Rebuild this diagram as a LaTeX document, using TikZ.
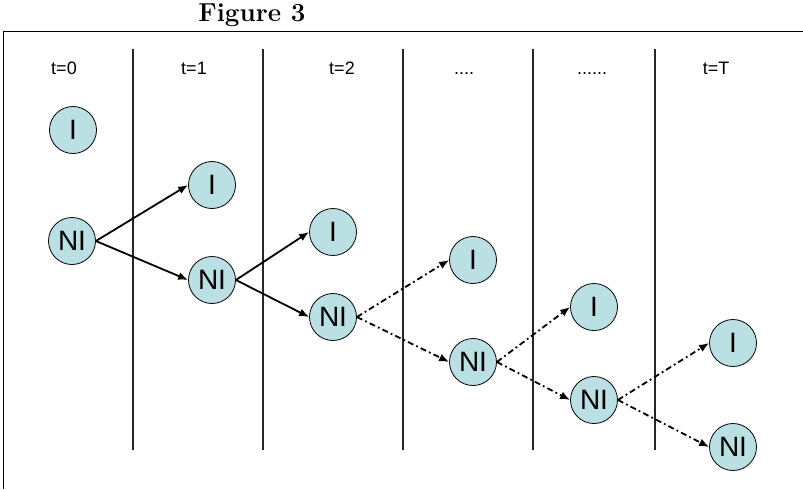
\documentclass[tikz,border=0pt]{standalone}
\usepackage{fontspec}
\setsansfont{Liberation Sans}
\usepackage{tikz}
\usetikzlibrary{
  arrows.meta,%
  positioning
}
\tikzset{>={Latex[length=5pt, width=4pt]}}
\definecolor{stateblue}{RGB}{187, 224, 228}
\tikzset{state/.style={circle, draw=black, thin, fill=stateblue,
    minimum size=23.5pt, inner sep=0pt, font=\sffamily\fontsize{14}{14}\selectfont}}
\tikzset{period/.style={anchor=base, font=\sffamily\fontsize{9}{9}\selectfont}}
\tikzset{known/.style={->, line width=0.9pt}}
\tikzset{guess/.style={->, line width=0.9pt, dash pattern=on 3pt off 1.6pt on 0.9pt off 1.6pt}}
\tikzset{divider/.style={line width=0.9pt, draw=black!85}}

\begin{document}
\begin{tikzpicture}[x=0.5pt, y=-0.5pt]
  \useasboundingbox (0, 0) rectangle (803, 489); %
  \node[font=\fontsize{13}{15}\bfseries\selectfont] (title) at (252, 15) {Figure 3}; %
  \draw[thin] (3, 489) -- (3, 31) -- (803, 31); %
  % time periods
  \foreach \x/\lab in {64/t=0, 194/t=1, 342/t=2, 716/t=T}
    \node[period] at (\x, 74) {\lab}; %
  \node[period] (dotsA) at (464, 74) {....}; %
  \node[period] (dotsB) at (592, 74) {......}; %
  \foreach \x in {133, 263, 403, 533, 655}
    \draw[divider] (\x, 49) -- (\x, 450); %
  % states
  \node[state] (I0) at (73, 130) {I}; %
  \node[state] (NI0) at (72, 241) {NI}; %
  \node[state] (I1) at (212, 185) {I}; %
  \node[state] (NI1) at (212, 280) {NI}; %
  \node[state] (I2) at (333, 232) {I}; %
  \node[state] (NI2) at (333, 317) {NI}; %
  \node[state] (I3) at (473, 260) {I}; %
  \node[state] (NI3) at (473, 362) {NI}; %
  \node[state] (I4) at (594, 307) {I}; %
  \node[state] (NI4) at (594, 400) {NI}; %
  \node[state] (IT) at (733, 343) {I}; %
  \node[state] (NIT) at (733, 447) {NI}; %
  % transitions
  \draw[known] (NI0.east) -- (I1.west); %
  \draw[known] (NI0.east) -- (NI1.west); %
  \draw[known] (NI1.east) -- (I2.west); %
  \draw[known] (NI1.east) -- (NI2.west); %
  \draw[guess] (NI2.east) -- (I3.west); %
  \draw[guess] (NI2.east) -- (NI3.west); %
  \draw[guess] (NI3.east) -- (I4.west); %
  \draw[guess] (NI3.east) -- (NI4.west); %
  \draw[guess] (NI4.east) -- (IT.west); %
  \draw[guess] (NI4.east) -- (NIT.west); %
\end{tikzpicture}
\end{document}
